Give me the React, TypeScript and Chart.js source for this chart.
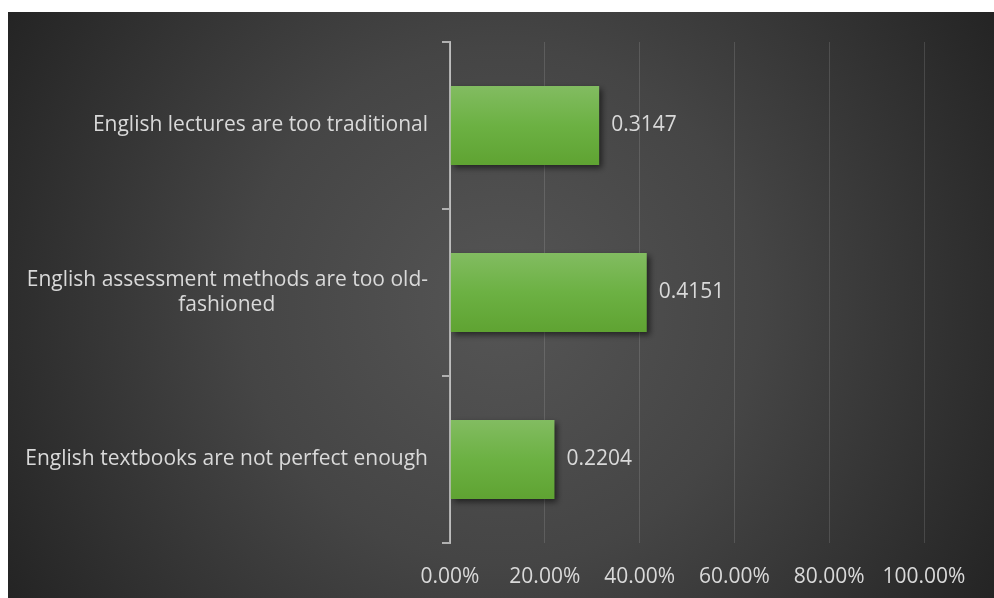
import React, { useEffect, useRef } from "react";
import { Chart, registerables } from "chart.js";

Chart.register(...registerables);

const categories: (string | string[])[] = [
  "English lectures are too traditional",
  ["English assessment methods are too old-", "fashioned"],
  "English textbooks are not perfect enough",
];
const values: number[] = [0.3147, 0.4151, 0.2204];
const xTicks: number[] = [0, 0.2, 0.4, 0.6, 0.8, 1.0];

const FONT_FAMILY = "'Open Sans', 'Noto Sans', sans-serif";
const FONT_SIZE = 21;
const TEXT_COLOR = "#d9d9d9";

function centerLines(label: string | string[]): string | string[] {
  if (!Array.isArray(label)) return label;
  const c = document.createElement("canvas").getContext("2d")!;
  c.font = `${FONT_SIZE}px ${FONT_FAMILY}`;
  const widths = label.map((l) => c.measureText(l).width);
  const max = Math.max(...widths);
  const sp = c.measureText(" ").width;
  return label.map((l, i) => {
    const n = Math.round((max - widths[i]) / 2 / sp);
    return l + " ".repeat(n);
  });
}

const bgPlugin = {
  id: "bg",
  beforeDraw(chart: any) {
    const { ctx, width, height } = chart;
    ctx.save();
    const cx = width / 2;
    const cy = height / 2;
    const g = ctx.createRadialGradient(cx, cy, 0, cx, cy, Math.hypot(cx, cy));
    g.addColorStop(0, "#555555");
    g.addColorStop(0.45, "#454545");
    g.addColorStop(0.85, "#2d2d2d");
    g.addColorStop(1, "#242424");
    ctx.fillStyle = g;
    ctx.fillRect(0, 0, width, height);
    ctx.restore();
  },
};

const shadowPlugin = {
  id: "barShadow",
  beforeDatasetsDraw(chart: any) {
    const ctx = chart.ctx;
    ctx.save();
    ctx.shadowColor = "rgba(0,0,0,0.55)";
    ctx.shadowBlur = 6;
    ctx.shadowOffsetX = 3;
    ctx.shadowOffsetY = 3;
  },
  afterDatasetsDraw(chart: any) {
    const ctx = chart.ctx;
    ctx.restore();
    const { left, top, bottom } = chart.chartArea;
    ctx.save();
    ctx.strokeStyle = "rgba(200,200,200,0.55)";
    ctx.lineWidth = 1;
    ctx.beginPath();
    ctx.moveTo(left + 0.5, top);
    ctx.lineTo(left + 0.5, bottom);
    ctx.stroke();
    ctx.restore();
    const meta = chart.getDatasetMeta(0);
    ctx.save();
    ctx.font = `${FONT_SIZE}px ${FONT_FAMILY}`;
    ctx.fillStyle = TEXT_COLOR;
    ctx.textAlign = "left";
    ctx.textBaseline = "middle";
    meta.data.forEach((bar: any, i: number) => {
      ctx.fillText(String(values[i]), bar.x + 12, bar.y);
    });
    ctx.restore();
  },
};

export default function App() {
  const ref = useRef<HTMLCanvasElement>(null);
  useEffect(() => {
    if (!ref.current) return;
    const chart = new Chart(ref.current, {
      type: "bar",
      data: {
        labels: categories.map(centerLines),
        datasets: [
          {
            data: values,
            backgroundColor: (context: any) => {
              const ch = context.chart;
              const ys = ch.scales?.y;
              if (!ys || !ch.chartArea) return "#6db244";
              const cy = ys.getPixelForValue(context.dataIndex);
              const h = (ch.chartArea.bottom - ch.chartArea.top) / categories.length * 0.473;
              const g = ch.ctx.createLinearGradient(0, cy - h / 2, 0, cy + h / 2);
              g.addColorStop(0, "#82bc61");
              g.addColorStop(0.5, "#6cb143");
              g.addColorStop(1, "#5fa332");
              return g;
            },
            borderWidth: 0,
            categoryPercentage: 1,
            barPercentage: 0.473,
          },
        ],
      },
      options: {
        indexAxis: "y",
        animation: false,
        responsive: false,
        devicePixelRatio: 1,
        layout: { padding: { top: 30, right: 70, left: 0, bottom: 0 } },
        plugins: {
          legend: { display: false },
          tooltip: { enabled: false },
        },
        scales: {
          x: {
            min: 0,
            max: 1,
            afterFit(scale: any) {
              scale.height = 55;
            },
            afterBuildTicks(scale: any) {
              scale.ticks = xTicks.map((v) => ({ value: v }));
            },
            grid: {
              color: "rgba(255,255,255,0.13)",
              lineWidth: 1,
              drawTicks: false,
            },
            border: { display: false },
            ticks: {
              padding: 21,
              color: TEXT_COLOR,
              font: { family: FONT_FAMILY, size: FONT_SIZE },
              callback: (v: any) => (Number(v) * 100).toFixed(2) + "%",
              maxRotation: 0,
            },
          },
          y: {
            afterFit(scale: any) {
              scale.width = 442;
            },
            grid: {
              offset: true,
              drawOnChartArea: false,
              drawTicks: true,
              tickLength: 8,
              color: "#b0b0b0",
              lineWidth: 2,
            },
            border: { display: true, color: "#b0b0b0", width: 2 },
            ticks: {
              padding: 14,
              color: TEXT_COLOR,
              font: { family: FONT_FAMILY, size: FONT_SIZE, lineHeight: 1.15 },
            },
          },
        },
      },
      plugins: [bgPlugin, shadowPlugin],
    });
    return () => chart.destroy();
  }, []);
  return (
    <div style={{ position: "absolute", left: 8, top: 12, width: 986, height: 586 }}>
      <canvas ref={ref} width={986} height={586} style={{ display: "block" }} />
    </div>
  );
}
